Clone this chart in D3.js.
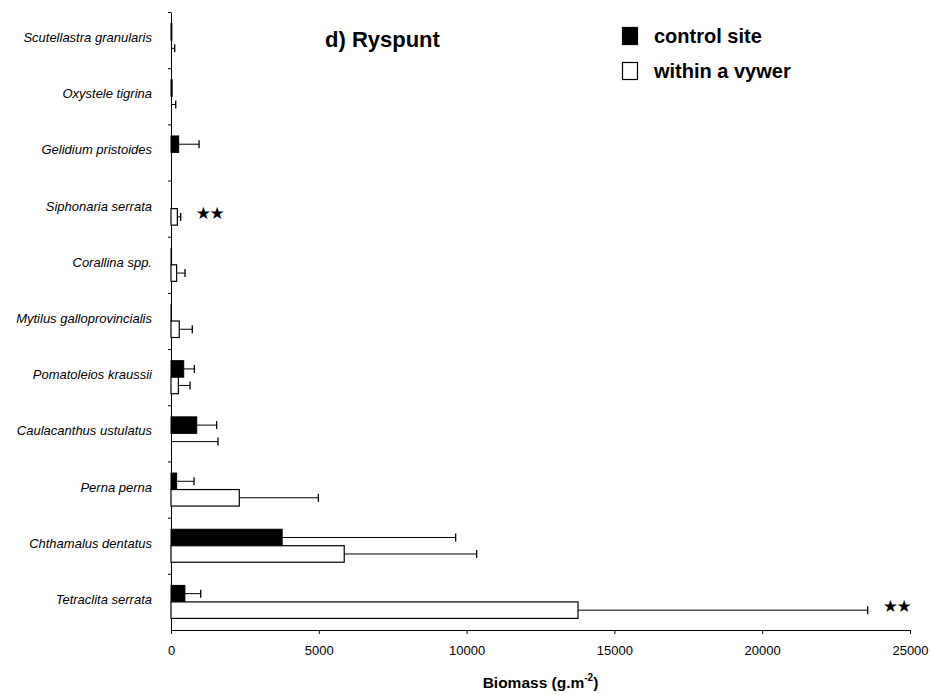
<!DOCTYPE html>
<html>
<head>
<meta charset="utf-8">
<script src="https://cdn.jsdelivr.net/npm/d3@7"></script>
<style>
  body { margin: 0; background: #fff; }
  svg { font-family: "Liberation Sans", Arial, sans-serif; }
  .axis path, .axis line { stroke: #000; stroke-width: 1; }
  .axis text { font-size: 13px; fill: #000; }
</style>
</head>
<body>
<div id="chart"></div>
<script>
const species = [
  "Scutellastra granularis",
  "Oxystele tigrina",
  "Gelidium pristoides",
  "Siphonaria serrata",
  "Corallina spp.",
  "Mytilus galloprovincialis",
  "Pomatoleios kraussii",
  "Caulacanthus ustulatus",
  "Perna perna",
  "Chthamalus dentatus",
  "Tetraclita serrata"
];
// mean biomass and standard error, control site
const controlMean = [30, 40, 260, 0, 20, 10, 430, 870, 190, 3760, 470];
const controlSE = [0, 0, 690, 0, 0, 0, 360, 675, 590, 5870, 535];
// mean biomass and standard error, within a vywer
const vywerMean = [0, 0, 0, 215, 190, 280, 250, 0, 2310, 5860, 13770];
const vywerSE = [125, 160, 0, 113, 284, 440, 393, 1590, 2675, 4480, 9800];
const significance = ["", "", "", "★★", "", "", "", "", "", "", "★★"];
const xTicks = [0, 5000, 10000, 15000, 20000, 25000];

const width = 932;
const height = 695;
const plot = { left: 171, right: 910, top: 12, bottom: 630 };

const svg = d3.select("#chart").append("svg")
  .attr("width", width)
  .attr("height", height);

const x = d3.scaleLinear().domain([0, 25000]).range([plot.left, plot.right]);
const y = d3.scaleBand().domain(species).range([plot.top, plot.bottom]);
const yIdx = d3.scaleLinear().domain([0, species.length]).range([plot.top, plot.bottom]);
const barH = 16.5;

// x axis
svg.append("g")
  .attr("class", "axis")
  .attr("transform", `translate(0,${plot.bottom})`)
  .call(d3.axisBottom(x).tickValues(xTicks).tickSize(4).tickSizeOuter(0).tickFormat(d3.format("d")))
  .call((g) => g.selectAll("text").attr("y", 16));

// y axis with ticks between categories
svg.append("g")
  .attr("class", "axis")
  .attr("transform", `translate(${plot.left},0)`)
  .call(d3.axisLeft(yIdx).tickValues(d3.range(0, species.length)).tickSize(3).tickSizeOuter(0).tickFormat(""));

// category labels
svg.append("g")
  .selectAll("text")
  .data(species)
  .join("text")
  .attr("x", 152)
  .attr("y", (d) => y(d) + y.bandwidth() / 2 + 2)
  .attr("text-anchor", "end")
  .attr("font-size", 13)
  .attr("font-style", "italic")
  .text((d) => d);

const rows = species.map((s, i) => ({
  s,
  c: controlMean[i], cse: controlSE[i],
  v: vywerMean[i], vse: vywerSE[i],
  sig: significance[i]
}));

const mid = (d) => y(d.s) + y.bandwidth() / 2;

function errorBar(g, mean, se, cy) {
  if (!se) return;
  g.append("line")
    .attr("x1", x(mean)).attr("x2", x(mean + se))
    .attr("y1", cy).attr("y2", cy)
    .attr("stroke", "#000").attr("stroke-width", 1);
  g.append("line")
    .attr("x1", x(mean + se)).attr("x2", x(mean + se))
    .attr("y1", cy - 4).attr("y2", cy + 4)
    .attr("stroke", "#000").attr("stroke-width", 1.3);
}

const bars = svg.append("g");
rows.forEach((d) => {
  const g = bars.append("g");
  const c = mid(d);
  if (d.c > 0) {
    g.append("rect")
      .attr("x", x(0)).attr("y", c - barH)
      .attr("width", x(d.c) - x(0)).attr("height", barH)
      .attr("fill", "#000").attr("stroke", "#000");
  }
  errorBar(g, d.c, d.cse, c - barH / 2);
  if (d.v > 0) {
    g.append("rect")
      .attr("x", x(0)).attr("y", c)
      .attr("width", x(d.v) - x(0)).attr("height", barH)
      .attr("fill", "#fff").attr("stroke", "#000").attr("stroke-width", 1.2);
  }
  errorBar(g, d.v, d.vse, c + barH / 2);
  if (d.sig) {
    g.append("text")
      .attr("x", x(d.v + d.vse) + 15)
      .attr("y", c + 10)
      .attr("font-family", "DejaVu Sans")
      .attr("font-size", 17)
      .attr("letter-spacing", -1.5)
      .text(d.sig);
  }
});

// title
svg.append("text")
  .attr("x", 325)
  .attr("y", 47)
  .attr("font-size", 22)
  .attr("font-weight", "bold")
  .text("d) Ryspunt");

// legend
const legendItems = [
  { label: "control site", fill: "#000" },
  { label: "within a vywer", fill: "#fff" }
];
const legend = svg.append("g").attr("transform", "translate(622,27)");
legend.selectAll("rect")
  .data(legendItems)
  .join("rect")
  .attr("x", 0.5)
  .attr("y", (d, i) => i * 35 + 0.5)
  .attr("width", 15)
  .attr("height", 17)
  .attr("fill", (d) => d.fill)
  .attr("stroke", "#000")
  .attr("stroke-width", 1.2);
legend.selectAll("text")
  .data(legendItems)
  .join("text")
  .attr("x", 32)
  .attr("y", (d, i) => i * 35 + 16)
  .attr("font-size", 20)
  .attr("font-weight", "bold")
  .text((d) => d.label);

// axis title
const xt = svg.append("text")
  .attr("x", (plot.left + plot.right) / 2)
  .attr("y", 688)
  .attr("text-anchor", "middle")
  .attr("font-size", 15.5)
  .attr("font-weight", "bold");
xt.append("tspan").text("Biomass (g.m");
xt.append("tspan").attr("font-size", 10).attr("dy", -7).text("-2");
xt.append("tspan").attr("dy", 7).text(")");
</script>
</body>
</html>
